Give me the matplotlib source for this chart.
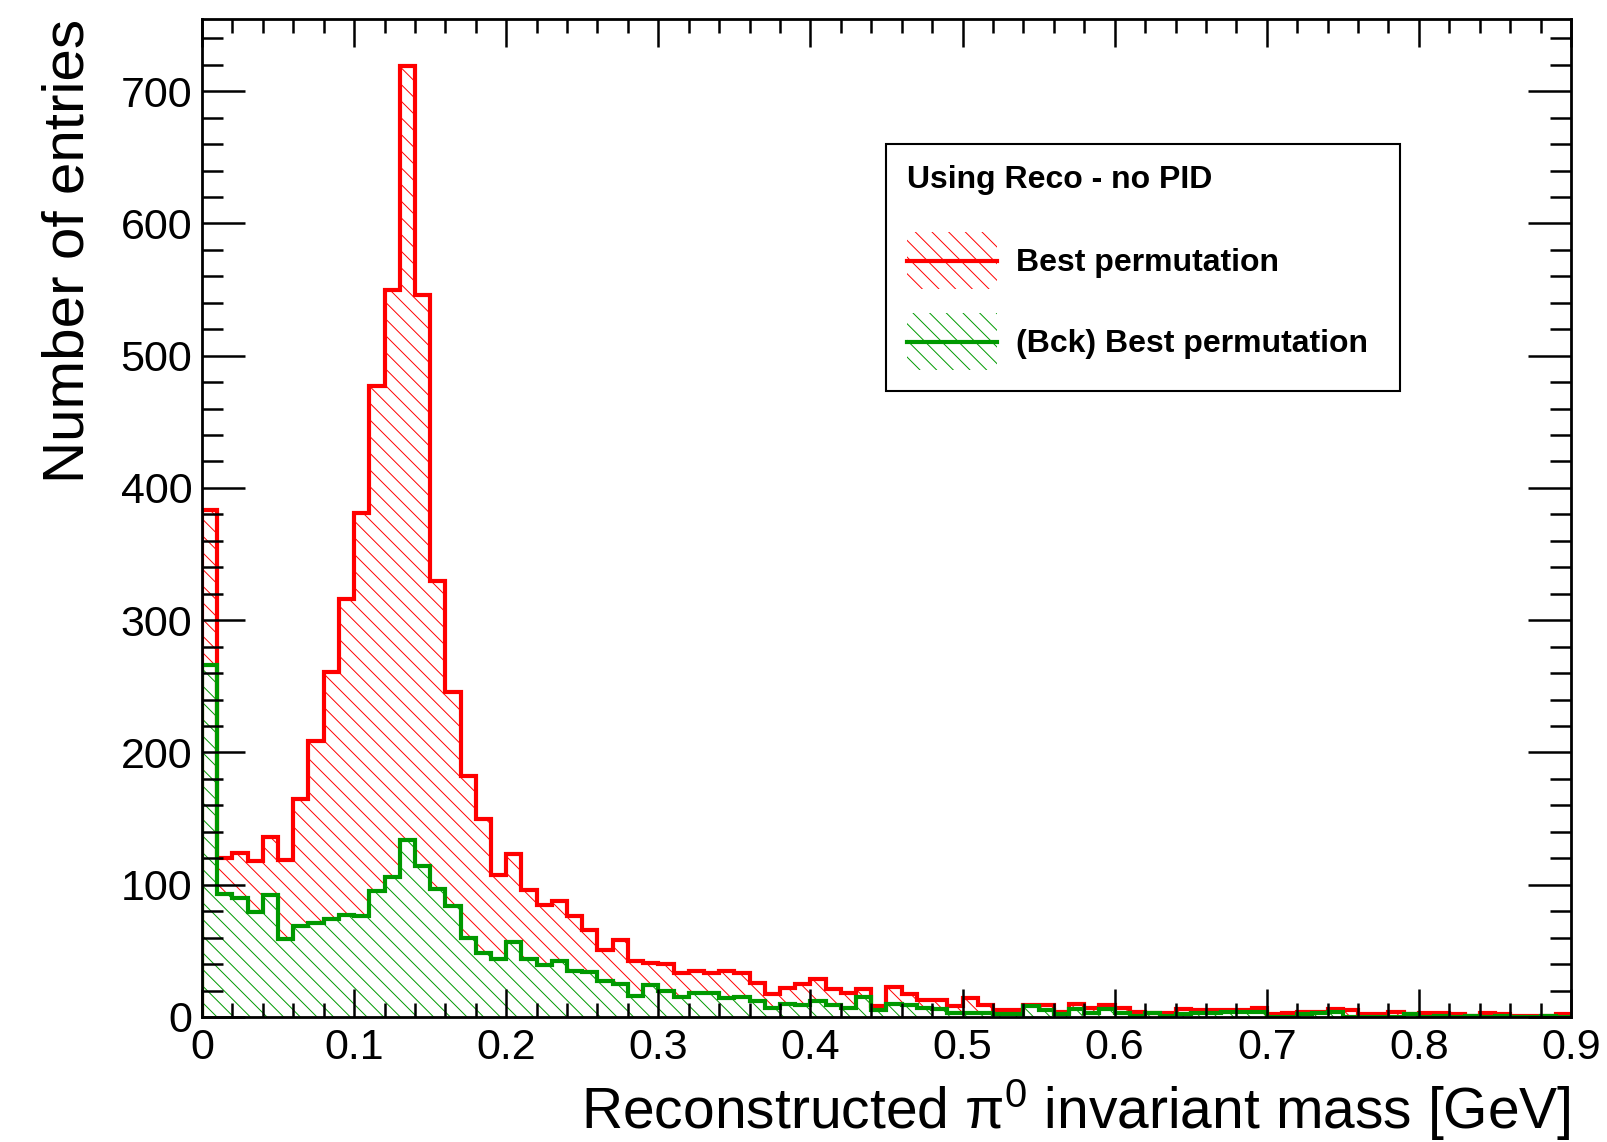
import numpy as np
import matplotlib
matplotlib.use("Agg")
import matplotlib.pyplot as plt
from matplotlib.patches import Patch
from matplotlib.lines import Line2D
from matplotlib.legend_handler import HandlerTuple, HandlerLine2D
from matplotlib.ticker import MultipleLocator

plt.rcParams['font.family'] = ['Liberation Sans', 'DejaVu Sans']
plt.rcParams['mathtext.fontset'] = 'custom'
plt.rcParams['mathtext.rm'] = 'Liberation Sans'
plt.rcParams['mathtext.it'] = 'Liberation Serif'
plt.rcParams['mathtext.default'] = 'regular'
plt.rcParams['hatch.linewidth'] = 0.7

# binning: 90 bins of 10 MeV from 0 to 0.9 GeV
edges = np.linspace(0, 0.9, 91)

# best permutation
best = [383, 120, 124, 118, 136, 119, 165, 209, 261, 316,
        381, 477, 550, 719, 546, 330, 246, 182, 150, 107,
        123, 96, 85, 88, 76, 66, 51, 58, 42, 41,
        40, 33, 35, 33, 35, 33, 26, 17, 22, 25,
        29, 21, 18, 21, 8, 23, 17, 13, 13, 8,
        14, 9, 5, 5, 9, 9, 4, 10, 7, 9,
        7, 4, 3, 3, 6, 5, 5, 5, 5, 7,
        2, 3, 4, 4, 6, 5, 2, 2, 4, 2,
        3, 3, 2, 1, 3, 2, 1, 1, 1, 2]

# (Bck) best permutation
bck = [266, 93, 90, 79, 92, 59, 69, 71, 74, 77,
       76, 95, 106, 134, 114, 97, 84, 60, 48, 44,
       57, 44, 39, 42, 35, 34, 27, 25, 16, 24,
       20, 15, 18, 18, 14, 15, 12, 7, 10, 9,
       12, 9, 7, 15, 5, 10, 9, 7, 6, 3,
       3, 3, 2, 2, 8, 5, 2, 6, 3, 6,
       3, 1, 3, 1, 2, 3, 3, 4, 4, 4,
       0, 0, 2, 3, 4, 0, 0, 0, 0, 2,
       0, 1, 0, 1, 0, 1, 0, 0, 1, 0]

red = '#ff0000'
green = '#009900'


class MidLine(HandlerLine2D):
    # put the legend line in the middle of the hatched box
    def create_artists(self, legend, orig_handle, xdescent, ydescent, width, height, fontsize, trans):
        arts = super().create_artists(legend, orig_handle, xdescent, ydescent, width, height, fontsize, trans)
        for a in arts:
            a.set_ydata(np.full(len(a.get_xdata()), height / 2 - ydescent))
        return arts


fig = plt.figure(figsize=(16.08, 11.42), dpi=100)
ax = fig.add_axes([0.1256, 0.1095, 0.8514, 0.8743])

# hatched fills (red only above the green one so the hatches don't mix)
lower = np.minimum(best, bck)
ax.stairs(best, edges, baseline=lower, fill=True, facecolor='none', edgecolor=red, hatch='\\\\', linewidth=0)
ax.stairs(bck, edges, fill=True, facecolor='none', edgecolor=green, hatch='\\\\', linewidth=0)
# outlines
ax.stairs(best, edges, baseline=0, color=red, linewidth=3)
ax.stairs(bck, edges, baseline=0, color=green, linewidth=3)

ax.set_xlim(0, 0.9)
ax.set_ylim(0, 1.05 * max(best))

ax.xaxis.set_major_locator(MultipleLocator(0.1))
ax.xaxis.set_minor_locator(MultipleLocator(0.02))
ax.yaxis.set_major_locator(MultipleLocator(100))
ax.yaxis.set_minor_locator(MultipleLocator(20))
ax.xaxis.set_major_formatter(lambda v, p: '0' if abs(v) < 1e-9 else '{:g}'.format(v))

ax.tick_params(which='both', direction='in', top=True, right=True, width=1.8, labelsize=31)
ax.tick_params(axis='x', which='major', length=20, pad=8)
ax.tick_params(axis='x', which='minor', length=10)
ax.tick_params(axis='y', which='major', length=31, pad=7)
ax.tick_params(axis='y', which='minor', length=15)
for s in ax.spines.values():
    s.set_linewidth(2)

ax.set_xlabel(r'Reconstructed $\pi^{0}$ invariant mass [GeV]', fontsize=41, loc='right')
ax.set_ylabel('Number of entries', fontsize=42, loc='top')
ax.xaxis.set_label_coords(1.0, -0.112)
ax.xaxis.label.set_va('baseline')
ax.yaxis.set_label_coords(-0.078, 1.0)

h_best = (Patch(facecolor='none', edgecolor=red, hatch='\\\\', linewidth=0), Line2D([], [], color=red, lw=3))
h_bck = (Patch(facecolor='none', edgecolor=green, hatch='\\\\', linewidth=0), Line2D([], [], color=green, lw=3))
leg = ax.legend([h_best, h_bck], ['Best permutation', '(Bck) Best permutation'],
                handler_map={tuple: HandlerTuple(ndivide=1), Line2D: MidLine()},
                title='Using Reco - no PID', alignment='left',
                prop={'weight': 'bold', 'size': 23},
                title_fontproperties={'weight': 'bold', 'size': 23},
                loc='upper left', bbox_to_anchor=(0.4996, 0.6292, 0.3755, 0.2455), mode='expand',
                handlelength=2.82, handleheight=2.37, handletextpad=0.6,
                labelspacing=0.75, borderpad=0.66, borderaxespad=0,
                fancybox=False, framealpha=1, edgecolor='black')
leg.get_frame().set_linewidth(1.5)
leg._legend_box.sep = 27  # gap between title and entries

fig.savefig('out.png', dpi=100)
